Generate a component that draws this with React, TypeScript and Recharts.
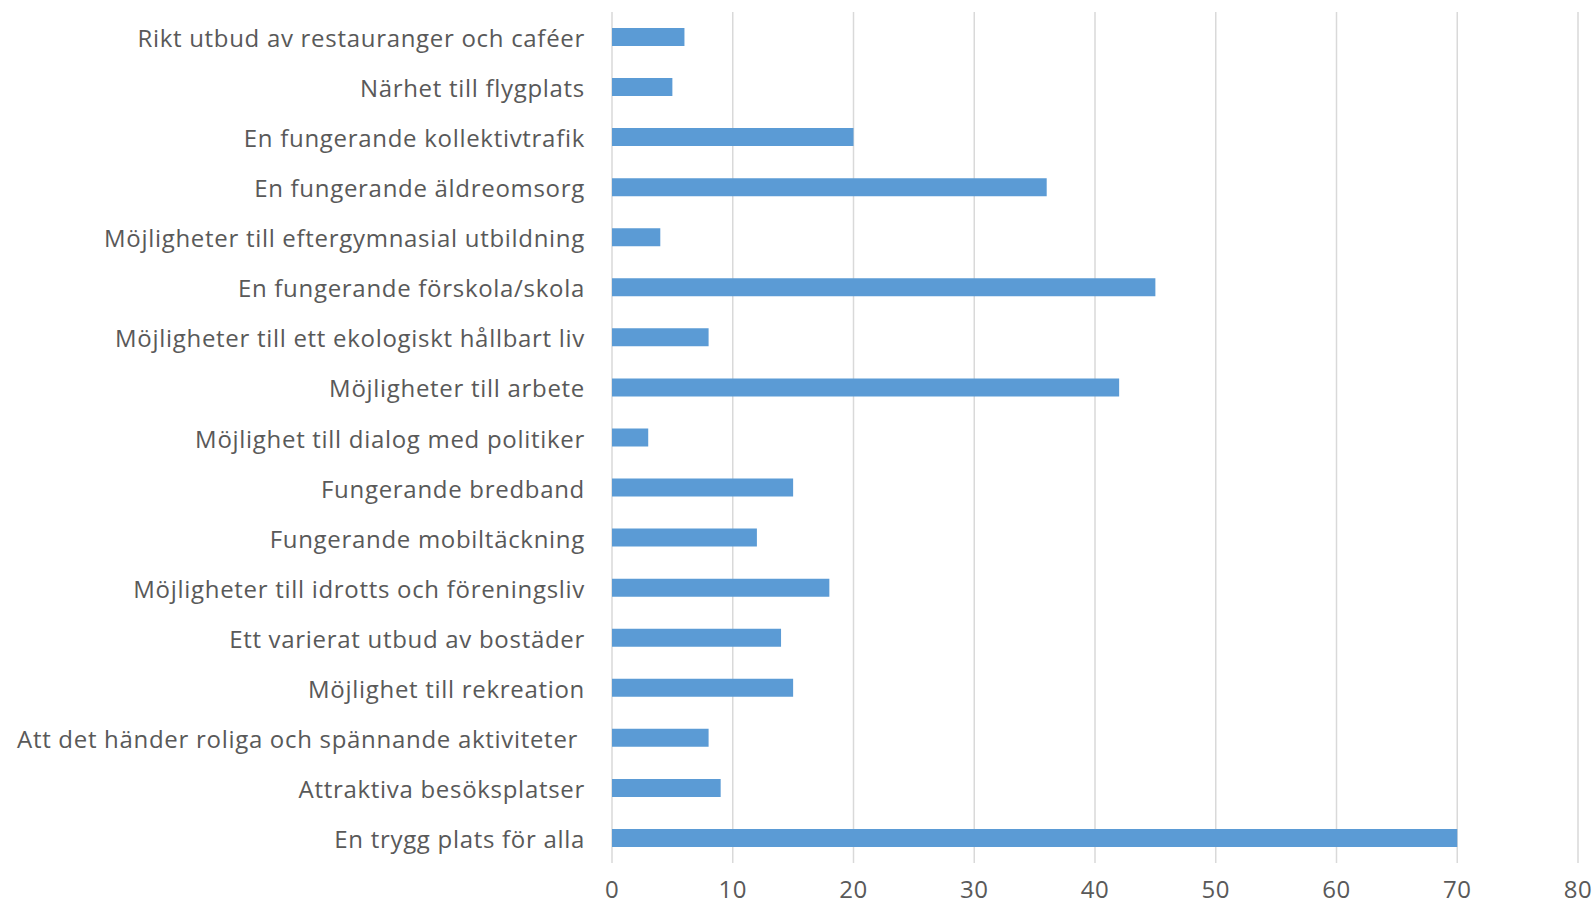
import { BarChart, Bar, XAxis, YAxis, CartesianGrid } from 'recharts';

const categories = [
  'Rikt utbud av restauranger och caféer',
  'Närhet till flygplats',
  'En fungerande kollektivtrafik',
  'En fungerande äldreomsorg',
  'Möjligheter till eftergymnasial utbildning',
  'En fungerande förskola/skola',
  'Möjligheter till ett ekologiskt hållbart liv',
  'Möjligheter till arbete',
  'Möjlighet till dialog med politiker',
  'Fungerande bredband',
  'Fungerande mobiltäckning',
  'Möjligheter till idrotts och föreningsliv',
  'Ett varierat utbud av bostäder',
  'Möjlighet till rekreation',
  'Att det händer roliga och spännande aktiviteter ',
  'Attraktiva besöksplatser',
  'En trygg plats för alla',
];

const counts = [6, 5, 20, 36, 4, 45, 8, 42, 3, 15, 12, 18, 14, 15, 8, 9, 70];

const xTicks = [0, 10, 20, 30, 40, 50, 60, 70, 80];

const chartData = categories.map((name, i) => ({ name, value: counts[i] }));

const textColor = '#595959';
const fontFamily = '"Open Sans", sans-serif';

// plain text so the trailing space in one label is kept
function CategoryTick({ x, y, payload }: { x?: number; y?: number; payload?: { value: string } }) {
  return (
    <text
      x={x}
      y={y}
      dy={10}
      textAnchor="end"
      fill={textColor}
      fontSize={24}
      fontFamily={fontFamily}
      style={{ letterSpacing: '0.7px', whiteSpace: 'pre' }}
    >
      {payload?.value}
    </text>
  );
}

export default function App() {
  return (
    <div style={{ position: 'absolute', left: 0, top: 0, background: '#fff' }}>
      <BarChart
        width={1595}
        height={907}
        data={chartData}
        layout="vertical"
        margin={{ top: 12, right: 17, bottom: 0, left: 0 }}
      >
        <CartesianGrid horizontal={false} stroke="#d9d9d9" strokeWidth={1.5} />
        <XAxis
          type="number"
          domain={[0, 80]}
          ticks={xTicks}
          interval={0}
          height={44}
          axisLine={false}
          tickLine={false}
          tickSize={6}
          tickMargin={12}
          tick={{ fill: textColor, fontSize: 24, fontFamily, style: { letterSpacing: '0.5px' } }}
        />
        <YAxis
          type="category"
          dataKey="name"
          width={612}
          interval={0}
          axisLine={false}
          tickLine={false}
          tickSize={6}
          tickMargin={21}
          tick={<CategoryTick />}
        />
        <Bar dataKey="value" fill="#5b9bd5" barSize={18} isAnimationActive={false} />
      </BarChart>
    </div>
  );
}
